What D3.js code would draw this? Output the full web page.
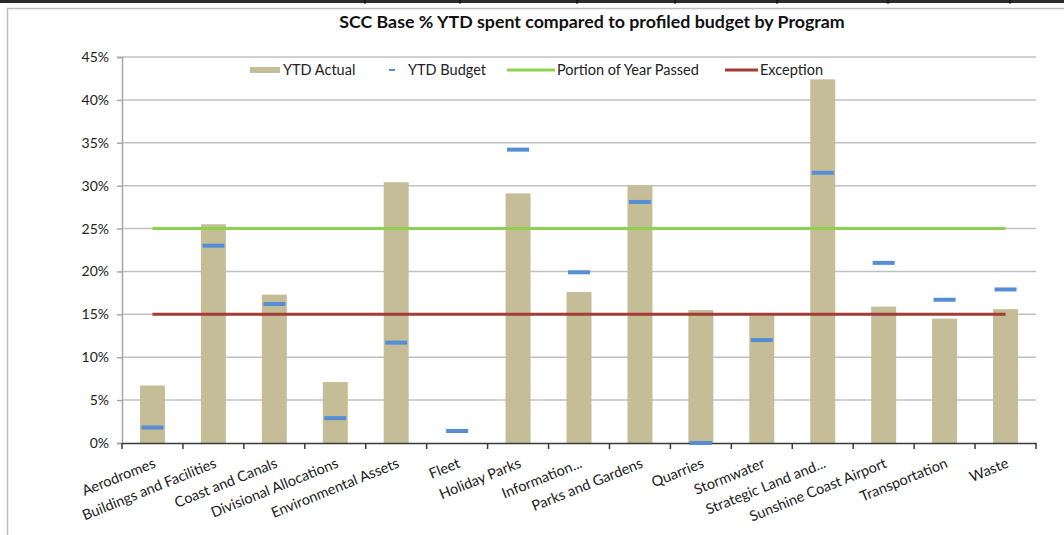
<!DOCTYPE html>
<html>
<head>
<meta charset="utf-8">
<script src="https://cdn.jsdelivr.net/npm/d3@7"></script>
<style>
  body { margin: 0; background: #fff; }
  text { font-family: Lato, "Open Sans", sans-serif; }
</style>
</head>
<body>
<div id="chart"></div>
<script>
// programs and their % of budget spent
const programs = ["Aerodromes", "Buildings and Facilities", "Coast and Canals", "Divisional Allocations",
    "Environmental Assets", "Fleet", "Holiday Parks", "Information...", "Parks and Gardens", "Quarries",
    "Stormwater", "Strategic Land and...", "Sunshine Coast Airport", "Transportation", "Waste"];
const ytdActual = [6.7, 25.5, 17.3, 7.1, 30.4, 0, 29.1, 17.6, 30.0, 15.5, 14.9, 42.4, 15.9, 14.5, 15.6];
const ytdBudget = [1.8, 23.0, 16.2, 2.9, 11.7, 1.4, 34.2, 19.9, 28.1, 0, 12.0, 31.5, 21.0, 16.7, 17.9];
const yearPassed = 25;
const exception = 15;
const yTicks = [0, 5, 10, 15, 20, 25, 30, 35, 40, 45];

const width = 1064, height = 535;
const margin = {top: 57, right: 28, bottom: 92, left: 122};

const svg = d3.select("#chart")
    .append("svg")
    .attr("width", width)
    .attr("height", height);

// spreadsheet grid peeking at top
svg.append("rect")
    .attr("x", 0).attr("y", 0)
    .attr("width", width).attr("height", 3)
    .attr("fill", "#2b2b2b");
[365, 460, 577, 675, 777, 888, 1010].forEach(x => {
    svg.append("line")
        .attr("x1", x).attr("x2", x)
        .attr("y1", 0).attr("y2", 4)
        .attr("stroke", "#000");
});

// chart frame
svg.append("rect")
    .attr("x", 7.5).attr("y", 8.5)
    .attr("width", width + 10).attr("height", height)
    .attr("fill", "#fff")
    .attr("stroke", "#bdbdbd")
    .attr("stroke-width", 1.5);

const xScale = d3.scaleBand()
    .domain(programs)
    .range([margin.left, width - margin.right]);

const yScale = d3.scaleLinear()
    .domain([0, 45])
    .range([height - margin.bottom, margin.top]);

const barW = xScale.bandwidth() * 0.41;
const mid = d => xScale(d) + xScale.bandwidth() / 2;

// gridlines
svg.append("g")
    .selectAll("line")
    .data(yTicks.filter(t => t > 0))
    .join("line")
    .attr("x1", margin.left)
    .attr("x2", width - margin.right)
    .attr("y1", d => yScale(d))
    .attr("y2", d => yScale(d))
    .attr("stroke", "#c0c0c0")
    .attr("stroke-width", 1.5);

// y-axis
const yAxis = svg.append("g")
    .attr("transform", `translate(${margin.left},0)`)
    .call(d3.axisLeft(yScale).tickValues(yTicks).tickFormat(d => d + "%").tickSize(5).tickPadding(8));
yAxis.select(".domain").attr("stroke", "#a6a6a6").attr("stroke-width", 1.5);
yAxis.selectAll(".tick line").attr("stroke", "#a6a6a6").attr("stroke-width", 1.5);
yAxis.selectAll("text").attr("font-size", 14).attr("fill", "#222");

// bars
svg.append("g")
    .selectAll("rect")
    .data(programs)
    .join("rect")
    .attr("x", d => mid(d) - barW / 2)
    .attr("y", (d, i) => yScale(ytdActual[i]))
    .attr("width", barW)
    .attr("height", (d, i) => yScale(0) - yScale(ytdActual[i]))
    .attr("fill", "#c4bd97");

// x-axis
const xAxis = svg.append("g")
    .attr("transform", `translate(0,${yScale(0)})`)
    .call(d3.axisBottom(xScale).tickSize(0).tickFormat(""));
xAxis.select(".domain").attr("stroke", "#3a3a3a").attr("stroke-width", 1.5);
svg.append("g")
    .selectAll("line")
    .data(programs.concat(["end"]))
    .join("line")
    .attr("x1", (d, i) => i < programs.length ? xScale(d) : width - margin.right)
    .attr("x2", (d, i) => i < programs.length ? xScale(d) : width - margin.right)
    .attr("y1", yScale(0))
    .attr("y2", yScale(0) + 6)
    .attr("stroke", "#3a3a3a")
    .attr("stroke-width", 1.5);

// category labels
svg.append("g")
    .selectAll("text")
    .data(programs)
    .join("text")
    .attr("transform", d => `translate(${mid(d) + 4},${yScale(0) + 24}) rotate(-22)`)
    .attr("text-anchor", "end")
    .attr("font-size", 14.5)
    .attr("fill", "#222")
    .text(d => d);

// reference lines
const first = mid(programs[0]), last = mid(programs[programs.length - 1]);
svg.append("line")
    .attr("x1", first).attr("x2", last)
    .attr("y1", yScale(yearPassed)).attr("y2", yScale(yearPassed))
    .attr("stroke", "#8fd14f")
    .attr("stroke-width", 3);
svg.append("line")
    .attr("x1", first).attr("x2", last)
    .attr("y1", yScale(exception)).attr("y2", yScale(exception))
    .attr("stroke", "#a33b36")
    .attr("stroke-width", 3);

// budget markers
svg.append("g")
    .selectAll("rect")
    .data(programs)
    .join("rect")
    .attr("x", d => mid(d) - 11)
    .attr("y", (d, i) => yScale(ytdBudget[i]) - 2)
    .attr("width", 22)
    .attr("height", 4)
    .attr("fill", "#558ed5");

// title
svg.append("text")
    .attr("x", 592)
    .attr("y", 28)
    .attr("text-anchor", "middle")
    .attr("font-size", 17.8)
    .attr("font-weight", "bold")
    .attr("fill", "#111")
    .text("SCC Base % YTD spent compared to profiled budget by Program");

// legend
const leg = svg.append("g").attr("font-size", 14.5).attr("fill", "#222");
leg.append("rect").attr("x", 250).attr("y", 67).attr("width", 30).attr("height", 6).attr("fill", "#c4bd97");
leg.append("text").attr("x", 283).attr("y", 75).text("YTD Actual");
leg.append("rect").attr("x", 389).attr("y", 69).attr("width", 6).attr("height", 2).attr("fill", "#558ed5");
leg.append("text").attr("x", 408).attr("y", 75).text("YTD Budget");
leg.append("line").attr("x1", 507).attr("x2", 555).attr("y1", 70).attr("y2", 70)
    .attr("stroke", "#8fd14f").attr("stroke-width", 3);
leg.append("text").attr("x", 557).attr("y", 75).text("Portion of Year Passed");
leg.append("line").attr("x1", 725).attr("x2", 758).attr("y1", 70).attr("y2", 70)
    .attr("stroke", "#a33b36").attr("stroke-width", 3);
leg.append("text").attr("x", 760).attr("y", 75).text("Exception");
</script>
</body>
</html>
